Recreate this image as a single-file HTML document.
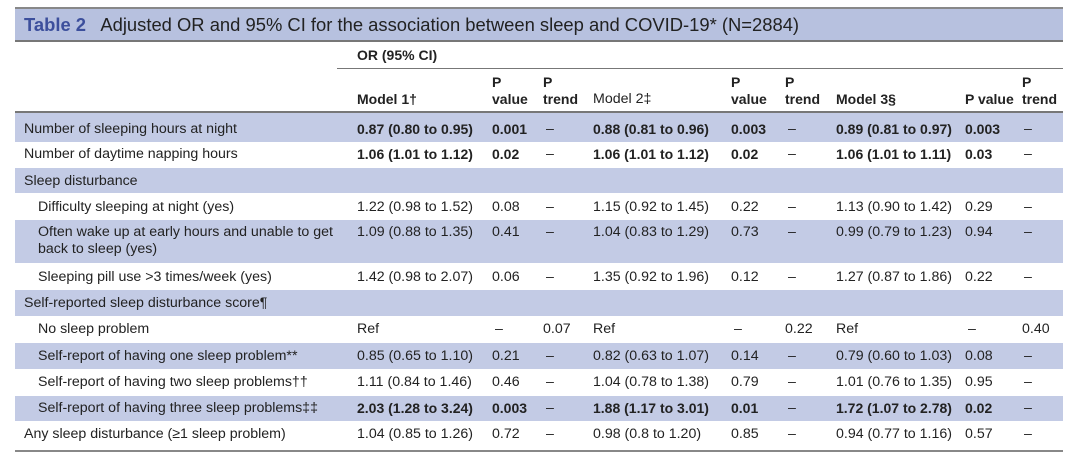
<!DOCTYPE html>
<html><head><meta charset="utf-8"><style>
body{margin:0;width:1080px;height:459px;background:#fff;position:relative;overflow:hidden;font-family:"Liberation Sans",Arial,sans-serif;color:#222;font-size:14.2px}
.b{position:absolute;left:15px;width:1048px;background:#c3cbe5}
.l{position:absolute;height:0}
.t{position:absolute;white-space:nowrap;line-height:16px}
.bo{font-weight:bold;font-size:14px}
</style></head><body>
<div class="b" style="top:8px;height:33px;background:#b7c1df"></div>
<div class="l" style="left:15px;width:1048px;top:7px;border-top:2px solid #888"></div>
<div class="l" style="left:15px;width:1048px;top:40px;border-top:2px solid #777"></div>
<div class="t" style="left:24px;top:15px;font-size:18.4px;line-height:20px"><b style="color:#3c4f9c">Table 2</b>&nbsp;&nbsp; Adjusted OR and 95% CI for the association between sleep and COVID-19* (N=2884)</div>
<div class="t bo" style="left:357px;top:47px">OR (95% CI)</div>
<div class="l" style="left:337px;width:726px;top:68px;border-top:1px solid #777"></div>
<div class="t bo" style="left:492px;top:74px">P</div><div class="t bo" style="left:543px;top:74px">P</div>
<div class="t bo" style="left:731px;top:74px">P</div><div class="t bo" style="left:785px;top:74px">P</div>
<div class="t bo" style="left:1022px;top:74px">P</div>
<div class="t bo" style="left:357px;top:91px">Model 1†</div>
<div class="t bo" style="left:492px;top:91px">value</div><div class="t bo" style="left:543px;top:91px">trend</div>
<div class="t" style="left:593px;top:91px">Model 2‡</div>
<div class="t bo" style="left:731px;top:91px">value</div><div class="t bo" style="left:785px;top:91px">trend</div>
<div class="t bo" style="left:836px;top:91px">Model 3§</div>
<div class="t bo" style="left:965px;top:91px">P value</div><div class="t bo" style="left:1022px;top:91px">trend</div>
<div class="b" style="top:113px;height:29px"></div>
<div class="l" style="left:15px;width:1048px;top:111px;border-top:2px solid #777"></div>
<div class="b" style="top:168px;height:25px"></div>
<div class="b" style="top:220px;height:43px"></div>
<div class="b" style="top:290px;height:26px"></div>
<div class="b" style="top:343px;height:26px"></div>
<div class="b" style="top:396px;height:25px"></div>
<div class="l" style="left:15px;width:1048px;top:450px;border-top:2px solid #888"></div>

<div class="t" style="left:24px;top:121px">Number of sleeping hours at night</div>
<div class="t bo" style="left:357px;top:121px">0.87 (0.80 to 0.95)</div><div class="t bo" style="left:492px;top:121px">0.001</div><div class="t" style="left:546px;top:121px">–</div>
<div class="t bo" style="left:593px;top:121px">0.88 (0.81 to 0.96)</div><div class="t bo" style="left:731px;top:121px">0.003</div><div class="t" style="left:788px;top:121px">–</div>
<div class="t bo" style="left:836px;top:121px">0.89 (0.81 to 0.97)</div><div class="t bo" style="left:965px;top:121px">0.003</div><div class="t" style="left:1024px;top:121px">–</div>

<div class="t" style="left:24px;top:146px">Number of daytime napping hours</div>
<div class="t bo" style="left:357px;top:146px">1.06 (1.01 to 1.12)</div><div class="t bo" style="left:492px;top:146px">0.02</div><div class="t" style="left:546px;top:146px">–</div>
<div class="t bo" style="left:593px;top:146px">1.06 (1.01 to 1.12)</div><div class="t bo" style="left:731px;top:146px">0.02</div><div class="t" style="left:788px;top:146px">–</div>
<div class="t bo" style="left:836px;top:146px">1.06 (1.01 to 1.11)</div><div class="t bo" style="left:965px;top:146px">0.03</div><div class="t" style="left:1024px;top:146px">–</div>

<div class="t" style="left:24px;top:173px">Sleep disturbance</div>

<div class="t" style="left:38px;top:199px">Difficulty sleeping at night (yes)</div>
<div class="t" style="left:357px;top:199px">1.22 (0.98 to 1.52)</div><div class="t" style="left:492px;top:199px">0.08</div><div class="t" style="left:546px;top:199px">–</div>
<div class="t" style="left:593px;top:199px">1.15 (0.92 to 1.45)</div><div class="t" style="left:731px;top:199px">0.22</div><div class="t" style="left:788px;top:199px">–</div>
<div class="t" style="left:836px;top:199px">1.13 (0.90 to 1.42)</div><div class="t" style="left:965px;top:199px">0.29</div><div class="t" style="left:1024px;top:199px">–</div>

<div class="t" style="left:38px;top:224px;line-height:17px">Often wake up at early hours and unable to get<br>back to sleep (yes)</div>
<div class="t" style="left:357px;top:224px">1.09 (0.88 to 1.35)</div><div class="t" style="left:492px;top:224px">0.41</div><div class="t" style="left:546px;top:224px">–</div>
<div class="t" style="left:593px;top:224px">1.04 (0.83 to 1.29)</div><div class="t" style="left:731px;top:224px">0.73</div><div class="t" style="left:788px;top:224px">–</div>
<div class="t" style="left:836px;top:224px">0.99 (0.79 to 1.23)</div><div class="t" style="left:965px;top:224px">0.94</div><div class="t" style="left:1024px;top:224px">–</div>

<div class="t" style="left:38px;top:269px">Sleeping pill use &gt;3 times/week (yes)</div>
<div class="t" style="left:357px;top:269px">1.42 (0.98 to 2.07)</div><div class="t" style="left:492px;top:269px">0.06</div><div class="t" style="left:546px;top:269px">–</div>
<div class="t" style="left:593px;top:269px">1.35 (0.92 to 1.96)</div><div class="t" style="left:731px;top:269px">0.12</div><div class="t" style="left:788px;top:269px">–</div>
<div class="t" style="left:836px;top:269px">1.27 (0.87 to 1.86)</div><div class="t" style="left:965px;top:269px">0.22</div><div class="t" style="left:1024px;top:269px">–</div>

<div class="t" style="left:24px;top:295px">Self-reported sleep disturbance score¶</div>

<div class="t" style="left:38px;top:321px">No sleep problem</div>
<div class="t" style="left:357px;top:321px">Ref</div><div class="t" style="left:495px;top:321px">–</div><div class="t" style="left:543px;top:321px">0.07</div>
<div class="t" style="left:593px;top:321px">Ref</div><div class="t" style="left:734px;top:321px">–</div><div class="t" style="left:785px;top:321px">0.22</div>
<div class="t" style="left:836px;top:321px">Ref</div><div class="t" style="left:968px;top:321px">–</div><div class="t" style="left:1022px;top:321px">0.40</div>

<div class="t" style="left:38px;top:348px">Self-report of having one sleep problem**</div>
<div class="t" style="left:357px;top:348px">0.85 (0.65 to 1.10)</div><div class="t" style="left:492px;top:348px">0.21</div><div class="t" style="left:546px;top:348px">–</div>
<div class="t" style="left:593px;top:348px">0.82 (0.63 to 1.07)</div><div class="t" style="left:731px;top:348px">0.14</div><div class="t" style="left:788px;top:348px">–</div>
<div class="t" style="left:836px;top:348px">0.79 (0.60 to 1.03)</div><div class="t" style="left:965px;top:348px">0.08</div><div class="t" style="left:1024px;top:348px">–</div>

<div class="t" style="left:38px;top:374px">Self-report of having two sleep problems††</div>
<div class="t" style="left:357px;top:374px">1.11 (0.84 to 1.46)</div><div class="t" style="left:492px;top:374px">0.46</div><div class="t" style="left:546px;top:374px">–</div>
<div class="t" style="left:593px;top:374px">1.04 (0.78 to 1.38)</div><div class="t" style="left:731px;top:374px">0.79</div><div class="t" style="left:788px;top:374px">–</div>
<div class="t" style="left:836px;top:374px">1.01 (0.76 to 1.35)</div><div class="t" style="left:965px;top:374px">0.95</div><div class="t" style="left:1024px;top:374px">–</div>

<div class="t" style="left:38px;top:400px">Self-report of having three sleep problems‡‡</div>
<div class="t bo" style="left:357px;top:400px">2.03 (1.28 to 3.24)</div><div class="t bo" style="left:492px;top:400px">0.003</div><div class="t" style="left:546px;top:400px">–</div>
<div class="t bo" style="left:593px;top:400px">1.88 (1.17 to 3.01)</div><div class="t bo" style="left:731px;top:400px">0.01</div><div class="t" style="left:788px;top:400px">–</div>
<div class="t bo" style="left:836px;top:400px">1.72 (1.07 to 2.78)</div><div class="t bo" style="left:965px;top:400px">0.02</div><div class="t" style="left:1024px;top:400px">–</div>

<div class="t" style="left:24px;top:426px">Any sleep disturbance (≥1 sleep problem)</div>
<div class="t" style="left:357px;top:426px">1.04 (0.85 to 1.26)</div><div class="t" style="left:492px;top:426px">0.72</div><div class="t" style="left:546px;top:426px">–</div>
<div class="t" style="left:593px;top:426px">0.98 (0.8 to 1.20)</div><div class="t" style="left:731px;top:426px">0.85</div><div class="t" style="left:788px;top:426px">–</div>
<div class="t" style="left:836px;top:426px">0.94 (0.77 to 1.16)</div><div class="t" style="left:965px;top:426px">0.57</div><div class="t" style="left:1024px;top:426px">–</div>
</body></html>
